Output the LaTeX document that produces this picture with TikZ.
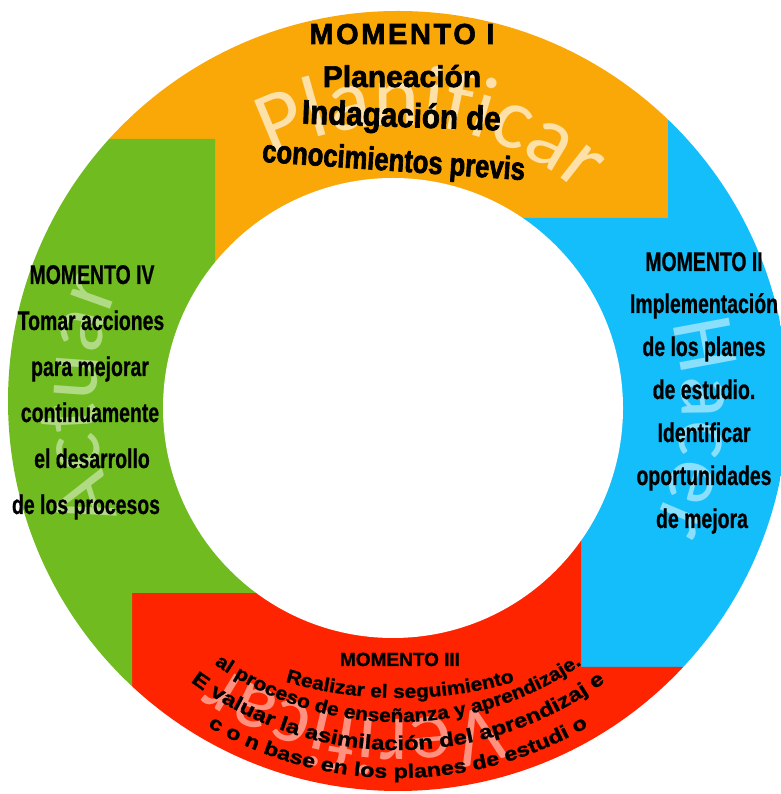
\documentclass[tikz,border=0pt]{standalone}
\usepackage{fontspec}
\setmainfont{Liberation Sans}
\newfontfamily\narrowfont[FakeStretch=0.72,FakeBold=0.6]{Liberation Sans}
\newfontfamily\heavyfont[FakeBold=2]{Liberation Sans}
\newfontfamily\lowfont[FakeBold=1.2]{Liberation Sans}
\newfontfamily\widefont[FakeStretch=1.1,FakeBold=1.2]{Liberation Sans}
\newfontfamily\widerfont[FakeStretch=1.2,FakeBold=1.2]{Liberation Sans}
\newfontfamily\faintfont{Carlito}
\usetikzlibrary{decorations.text}

\definecolor{ringorange}{RGB}{249,168,8}
\definecolor{ringblue}{RGB}{20,190,250}
\definecolor{ringred}{RGB}{255,36,0}
\definecolor{ringgreen}{RGB}{112,187,32}

\begin{document}
\begin{tikzpicture}[x=1pt,y=1pt]
    \tikzstyle{every node}+=[inner sep=0pt]
    \tikzstyle{sidetext}=[anchor=base, font=\narrowfont\bfseries\fontsize{27}{27}\selectfont]
    \tikzstyle{toptext}=[anchor=base]
    \useasboundingbox (0,0) rectangle (780,794);
    % ring, four coloured blocks
    \begin{scope}
    \clip (398,393) circle (390pt);
    \fill [ringorange] (-10,800) -- (668,800) -- (668,576) -- (408,576) -- (408,377) -- (215,377) -- (215,655) -- (-10,655) -- cycle;
    \fill [ringblue] (668,800) -- (800,800) -- (800,127) -- (581,127) -- (581,377) -- (408,377) -- (408,576) -- (668,576) -- cycle;
    \fill [ringred] (132,-10) -- (800,-10) -- (800,127) -- (581,127) -- (581,377) -- (408,377) -- (408,201) -- (132,201) -- cycle;
    \fill [ringgreen] (-10,-10) -- (132,-10) -- (132,201) -- (408,201) -- (408,377) -- (215,377) -- (215,655) -- (-10,655) -- cycle;
    \fill [white] (393,386) circle (230pt);
    \end{scope}
    % pale words round the ring
    \path [decorate, decoration={text along path, text align=center, text color=ringorange!35!white,
        text={|\faintfont\fontsize{88}{88}\selectfont|Planificar}}] (398,393) ++(143:276pt) arc [start angle=143, end angle=23, radius=276pt];
    \path [decorate, decoration={text along path, text align=center, text color=ringblue!50!white,
        text={|\faintfont\fontsize{88}{88}\selectfont|Hacer}}] (398,393) ++(55:284pt) arc [start angle=55, end angle=-65, radius=284pt];
    \path [decorate, decoration={text along path, text align=center, text color=ringred!50!white,
        text={|\faintfont\fontsize{84}{84}\selectfont|Verificar}}] (398,393) ++(322:318pt) arc [start angle=322, end angle=202, radius=318pt];
    \path [decorate, decoration={text along path, text align=center, text color=ringgreen!55!white,
        text={|\faintfont\fontsize{88}{88}\selectfont|Actuar}}] (398,393) ++(240:302pt) arc [start angle=240, end angle=120, radius=302pt];
    % momento I
    \node [toptext, font=\heavyfont\bfseries\fontsize{29}{29}\selectfont\addfontfeature{LetterSpace=9}] (m1) at (402,750) {MOMENTO I};
    \node [toptext, font=\heavyfont\bfseries\fontsize{30}{30}\selectfont] (m1a) at (402,707) {Planeación};
    \node [toptext, rotate=-2, font=\heavyfont\bfseries\fontsize{34}{34}\selectfont\addfontfeature{FakeStretch=0.87}] (m1b) at (401,667) {Indagación de};
    \node [toptext, rotate=-4, font=\heavyfont\bfseries\fontsize{32}{32}\selectfont\addfontfeature{FakeStretch=0.8}] (m1c) at (393,623) {conocimientos previs};
    % momento II
    \node [sidetext] (m2) at (704,523) {MOMENTO II};
    \node [sidetext] (m2a) at (704,481) {Implementación};
    \node [sidetext] (m2b) at (704,438) {de los planes};
    \node [sidetext] (m2c) at (704,395) {de estudio.};
    \node [sidetext] (m2d) at (704,352) {Identificar};
    \node [sidetext] (m2e) at (704,309) {oportunidades};
    \node [sidetext] (m2f) at (702,266) {de mejora};
    % momento IV
    \node [sidetext] (m4) at (92,510) {MOMENTO IV};
    \node [sidetext] (m4a) at (91,464) {Tomar acciones};
    \node [sidetext] (m4b) at (90,418) {para mejorar};
    \node [sidetext] (m4c) at (90,372) {continuamente};
    \node [sidetext] (m4d) at (92,326) {el desarrollo};
    \node [sidetext] (m4e) at (86,280) {de los procesos};
    % momento III
    \node [toptext, font=\lowfont\bfseries\fontsize{19}{19}\selectfont] (m3) at (400,128) {MOMENTO III};
    \path [decorate, decoration={text along path, text align=center,
        text={|\widefont\bfseries\fontsize{19}{19}\selectfont|Realizar el seguimiento}}] (400,506) ++(250:410pt) arc [start angle=250, end angle=290, radius=410pt];
    \path [decorate, decoration={text along path, text align=center,
        text={|\widefont\bfseries\fontsize{19}{19}\selectfont|al proceso de enseñanza y aprendizaje.}}] (398,393) ++(195:321pt) arc [start angle=195, end angle=345, radius=321pt];
    \path [decorate, decoration={text along path, text align=center,
        text={|\widerfont\bfseries\fontsize{20}{20}\selectfont|E valuar la asimilación del aprendizaj e}}] (398,393) ++(195:349pt) arc [start angle=195, end angle=345, radius=349pt];
    \path [decorate, decoration={text along path, text align=center,
        text={|\widerfont\bfseries\fontsize{19.5}{19.5}\selectfont|c o n base en los planes de estudi o}}] (398,393) ++(195:377pt) arc [start angle=195, end angle=345, radius=377pt];
\end{tikzpicture}
\end{document}
